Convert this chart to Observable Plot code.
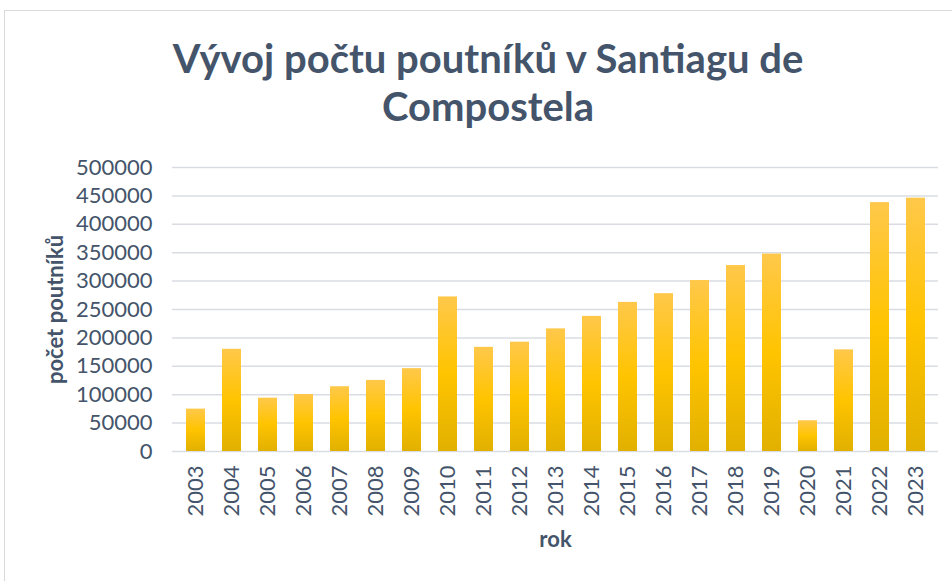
<!DOCTYPE html>
<html>
<head>
<meta charset="utf-8">
<script src="https://cdn.jsdelivr.net/npm/d3@7"></script>
<script src="https://cdn.jsdelivr.net/npm/@observablehq/plot@0.6"></script>
<style>
  html, body { margin: 0; padding: 0; background: #fff; }
  #frame { position: absolute; left: 4px; top: 10px; width: 990px; height: 600px; border: 1px solid #d9d9d9; box-sizing: border-box; }
  #title { position: absolute; left: 24px; top: 34px; width: 928px; text-align: center; font-family: Lato, "Open Sans", sans-serif; font-weight: 700; font-size: 40px; line-height: 48px; color: #44546A; }
  #chart { position: absolute; left: 0; top: 140px; }
  g[aria-label="y-axis label"] text, g[aria-label="x-axis label"] text { font-weight: 700; font-size: 22px; }
</style>
</head>
<body>
<div id="frame"></div>
<div id="title">Vývoj počtu poutníků v Santiagu de<br>Compostela</div>
<div id="chart"></div>
<script>
const years = ["2003","2004","2005","2006","2007","2008","2009","2010","2011","2012","2013","2014","2015","2016","2017","2018","2019","2020","2021","2022","2023"];
const pilgrims = [74614,179944,93924,100377,114026,125141,145877,272135,183366,192488,215880,237886,262516,277854,301036,327378,347578,54144,178912,438182,446035];
const yTicks = [0,50000,100000,150000,200000,250000,300000,350000,400000,450000,500000];
const xLabel = "rok";
const yLabel = "počet poutníků";

const data = years.map((y, i) => ({year: y, value: pilgrims[i]}));
const textColor = "#44546A";

const svg = Plot.plot({
  width: 952,
  height: 441,
  marginLeft: 172,
  marginRight: 14,
  marginTop: 27,
  marginBottom: 130,
  style: {fontFamily: "Lato, 'Open Sans', sans-serif", fontSize: "22px", color: textColor, background: "transparent"},
  x: {domain: years, paddingInner: 0.474, paddingOuter: 0.237, align: 0.5},
  y: {domain: [0, 500000]},
  marks: [
    Plot.gridY(yTicks, {stroke: "#d9dde3", strokeOpacity: 1, strokeWidth: 1.5}),
    Plot.barY(data, {x: "year", y: "value", fill: "url(#barGrad)"}),
    Plot.axisY(yTicks, {tickSize: 0, tickPadding: 20, tickFormat: d => String(d), fill: textColor, fontSize: 22, label: yLabel, labelArrow: "none", labelAnchor: "center", labelOffset: 125}),
    Plot.axisX({tickSize: 0, tickPadding: 14, tickRotate: -90, fill: textColor, fontSize: 22, label: xLabel, labelArrow: "none", labelAnchor: "center", labelOffset: 95})
  ]
});

const ns = "http://www.w3.org/2000/svg";
const defs = document.createElementNS(ns, "defs");
const grad = document.createElementNS(ns, "linearGradient");
grad.setAttribute("id", "barGrad");
grad.setAttribute("x1", "0"); grad.setAttribute("y1", "0");
grad.setAttribute("x2", "0"); grad.setAttribute("y2", "1");
[["0%", "#FFC84A"], ["50%", "#FFC400"], ["100%", "#E1B000"]].forEach(([o, c]) => {
  const s = document.createElementNS(ns, "stop");
  s.setAttribute("offset", o);
  s.setAttribute("stop-color", c);
  grad.appendChild(s);
});
defs.appendChild(grad);
svg.insertBefore(defs, svg.firstChild);
document.getElementById("chart").appendChild(svg);
</script>
</body>
</html>
